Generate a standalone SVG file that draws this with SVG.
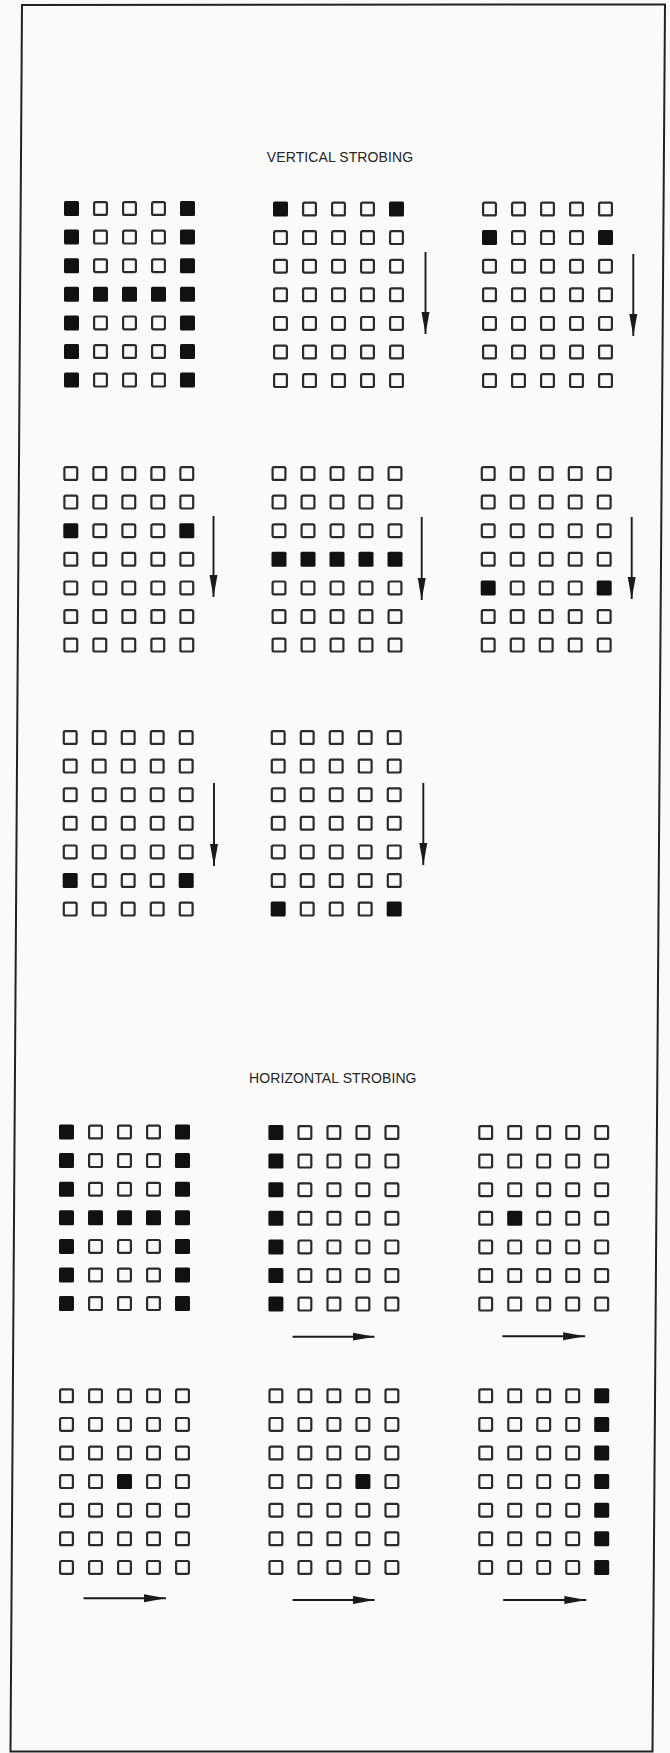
<svg xmlns="http://www.w3.org/2000/svg" xmlns:xlink="http://www.w3.org/1999/xlink" width="670" height="1753" viewBox="0 0 670 1753">
<style>
.o{fill:none;stroke:#2b2b2b;stroke-width:2.2}
.f{fill:#111}
.title{font-family:"Liberation Sans",Arial,sans-serif;font-size:14px;fill:#262626;letter-spacing:0.1px}
.arr{stroke:#1a1a1a;stroke-width:1.9;fill:none}
.head{fill:#1a1a1a}
</style>
<defs>
<rect id="o" class="o" x="1.1" y="1.1" width="12.8" height="12.8" rx="1.5"/>
<rect id="f" class="f" x="0" y="0" width="15" height="15" rx="1.5"/>
<g id="r00000"><use href="#o" x="0"/><use href="#o" x="29"/><use href="#o" x="58"/><use href="#o" x="87"/><use href="#o" x="116"/></g>
<g id="r10001"><use href="#f" x="0"/><use href="#o" x="29"/><use href="#o" x="58"/><use href="#o" x="87"/><use href="#f" x="116"/></g>
<g id="r11111"><use href="#f" x="0"/><use href="#f" x="29"/><use href="#f" x="58"/><use href="#f" x="87"/><use href="#f" x="116"/></g>
<g id="r10000"><use href="#f" x="0"/><use href="#o" x="29"/><use href="#o" x="58"/><use href="#o" x="87"/><use href="#o" x="116"/></g>
<g id="r01000"><use href="#o" x="0"/><use href="#f" x="29"/><use href="#o" x="58"/><use href="#o" x="87"/><use href="#o" x="116"/></g>
<g id="r00100"><use href="#o" x="0"/><use href="#o" x="29"/><use href="#f" x="58"/><use href="#o" x="87"/><use href="#o" x="116"/></g>
<g id="r00010"><use href="#o" x="0"/><use href="#o" x="29"/><use href="#o" x="58"/><use href="#f" x="87"/><use href="#o" x="116"/></g>
<g id="r00001"><use href="#o" x="0"/><use href="#o" x="29"/><use href="#o" x="58"/><use href="#o" x="87"/><use href="#f" x="116"/></g>
<g id="gH"><use href="#r10001" y="0"/><use href="#r10001" y="28.6"/><use href="#r10001" y="57.2"/><use href="#r11111" y="85.8"/><use href="#r10001" y="114.4"/><use href="#r10001" y="143"/><use href="#r10001" y="171.6"/></g>
<marker id="ah" markerUnits="userSpaceOnUse" markerWidth="24" markerHeight="10" refX="22" refY="4.5" orient="auto"><path class="head" d="M0,0.5 L22,4.5 L0,8.5 Z"/></marker>
</defs>
<rect x="0" y="0" width="670" height="1753" fill="#fafaf9"/>
<polygon id="frame" points="22,5 665,4.5 652.5,1751.5 10.5,1751.5" fill="none" stroke="#222" stroke-width="2"/>
<text class="title" x="340" y="162" text-anchor="middle">VERTICAL STROBING</text>
<text class="title" x="249" y="1083">HORIZONTAL STROBING</text>

<g id="v1" transform="translate(64,201)"><use href="#gH"/></g>
<g id="v2" transform="translate(273,201.5)"><use href="#r10001" y="0"/><use href="#r00000" y="28.6"/><use href="#r00000" y="57.2"/><use href="#r00000" y="85.8"/><use href="#r00000" y="114.4"/><use href="#r00000" y="143"/><use href="#r00000" y="171.6"/></g>
<g id="v3" transform="translate(482,201.5)"><use href="#r00000" y="0"/><use href="#r10001" y="28.6"/><use href="#r00000" y="57.2"/><use href="#r00000" y="85.8"/><use href="#r00000" y="114.4"/><use href="#r00000" y="143"/><use href="#r00000" y="171.6"/></g>
<g id="v4" transform="translate(63.3,466)"><use href="#r00000" y="0"/><use href="#r00000" y="28.6"/><use href="#r10001" y="57.2"/><use href="#r00000" y="85.8"/><use href="#r00000" y="114.4"/><use href="#r00000" y="143"/><use href="#r00000" y="171.6"/></g>
<g id="v5" transform="translate(271.5,466)"><use href="#r00000" y="0"/><use href="#r00000" y="28.6"/><use href="#r00000" y="57.2"/><use href="#r11111" y="85.8"/><use href="#r00000" y="114.4"/><use href="#r00000" y="143"/><use href="#r00000" y="171.6"/></g>
<g id="v6" transform="translate(480.7,466)"><use href="#r00000" y="0"/><use href="#r00000" y="28.6"/><use href="#r00000" y="57.2"/><use href="#r00000" y="85.8"/><use href="#r10001" y="114.4"/><use href="#r00000" y="143"/><use href="#r00000" y="171.6"/></g>
<g id="v7" transform="translate(62.7,730)"><use href="#r00000" y="0"/><use href="#r00000" y="28.6"/><use href="#r00000" y="57.2"/><use href="#r00000" y="85.8"/><use href="#r00000" y="114.4"/><use href="#r10001" y="143"/><use href="#r00000" y="171.6"/></g>
<g id="v8" transform="translate(270.7,730)"><use href="#r00000" y="0"/><use href="#r00000" y="28.6"/><use href="#r00000" y="57.2"/><use href="#r00000" y="85.8"/><use href="#r00000" y="114.4"/><use href="#r00000" y="143"/><use href="#r10001" y="171.6"/></g>

<g id="h1" transform="translate(59,1124.5)"><use href="#gH"/></g>
<g id="h2" transform="translate(268.4,1125)"><use href="#r10000" y="0"/><use href="#r10000" y="28.6"/><use href="#r10000" y="57.2"/><use href="#r10000" y="85.8"/><use href="#r10000" y="114.4"/><use href="#r10000" y="143"/><use href="#r10000" y="171.6"/></g>
<g id="h3" transform="translate(478.2,1125)"><use href="#r00000" y="0"/><use href="#r00000" y="28.6"/><use href="#r00000" y="57.2"/><use href="#r01000" y="85.8"/><use href="#r00000" y="114.4"/><use href="#r00000" y="143"/><use href="#r00000" y="171.6"/></g>
<g id="h4" transform="translate(59,1388.3)"><use href="#r00000" y="0"/><use href="#r00000" y="28.6"/><use href="#r00000" y="57.2"/><use href="#r00100" y="85.8"/><use href="#r00000" y="114.4"/><use href="#r00000" y="143"/><use href="#r00000" y="171.6"/></g>
<g id="h5" transform="translate(268.4,1388.3)"><use href="#r00000" y="0"/><use href="#r00000" y="28.6"/><use href="#r00000" y="57.2"/><use href="#r00010" y="85.8"/><use href="#r00000" y="114.4"/><use href="#r00000" y="143"/><use href="#r00000" y="171.6"/></g>
<g id="h6" transform="translate(478.2,1388.3)"><use href="#r00001" y="0"/><use href="#r00001" y="28.6"/><use href="#r00001" y="57.2"/><use href="#r00001" y="85.8"/><use href="#r00001" y="114.4"/><use href="#r00001" y="143"/><use href="#r00001" y="171.6"/></g>

<g id="connectors">
<line class="arr" x1="425.5" y1="252" x2="425.5" y2="334" marker-end="url(#ah)"/>
<line class="arr" x1="633.3" y1="254" x2="633.3" y2="336" marker-end="url(#ah)"/>
<line class="arr" x1="213.5" y1="516" x2="213.5" y2="597" marker-end="url(#ah)"/>
<line class="arr" x1="421.7" y1="517" x2="421.7" y2="600" marker-end="url(#ah)"/>
<line class="arr" x1="631.7" y1="517" x2="631.7" y2="599" marker-end="url(#ah)"/>
<line class="arr" x1="214" y1="783" x2="214" y2="866" marker-end="url(#ah)"/>
<line class="arr" x1="423.3" y1="783" x2="423.3" y2="865" marker-end="url(#ah)"/>
<line class="arr" x1="292.6" y1="1336.7" x2="374.5" y2="1336.7" marker-end="url(#ah)"/>
<line class="arr" x1="502.4" y1="1336.3" x2="585.1" y2="1336.3" marker-end="url(#ah)"/>
<line class="arr" x1="83.5" y1="1598.3" x2="165.9" y2="1598.3" marker-end="url(#ah)"/>
<line class="arr" x1="292.6" y1="1600" x2="374.5" y2="1600" marker-end="url(#ah)"/>
<line class="arr" x1="503.2" y1="1600" x2="586.3" y2="1600" marker-end="url(#ah)"/>
</g>
</svg>
